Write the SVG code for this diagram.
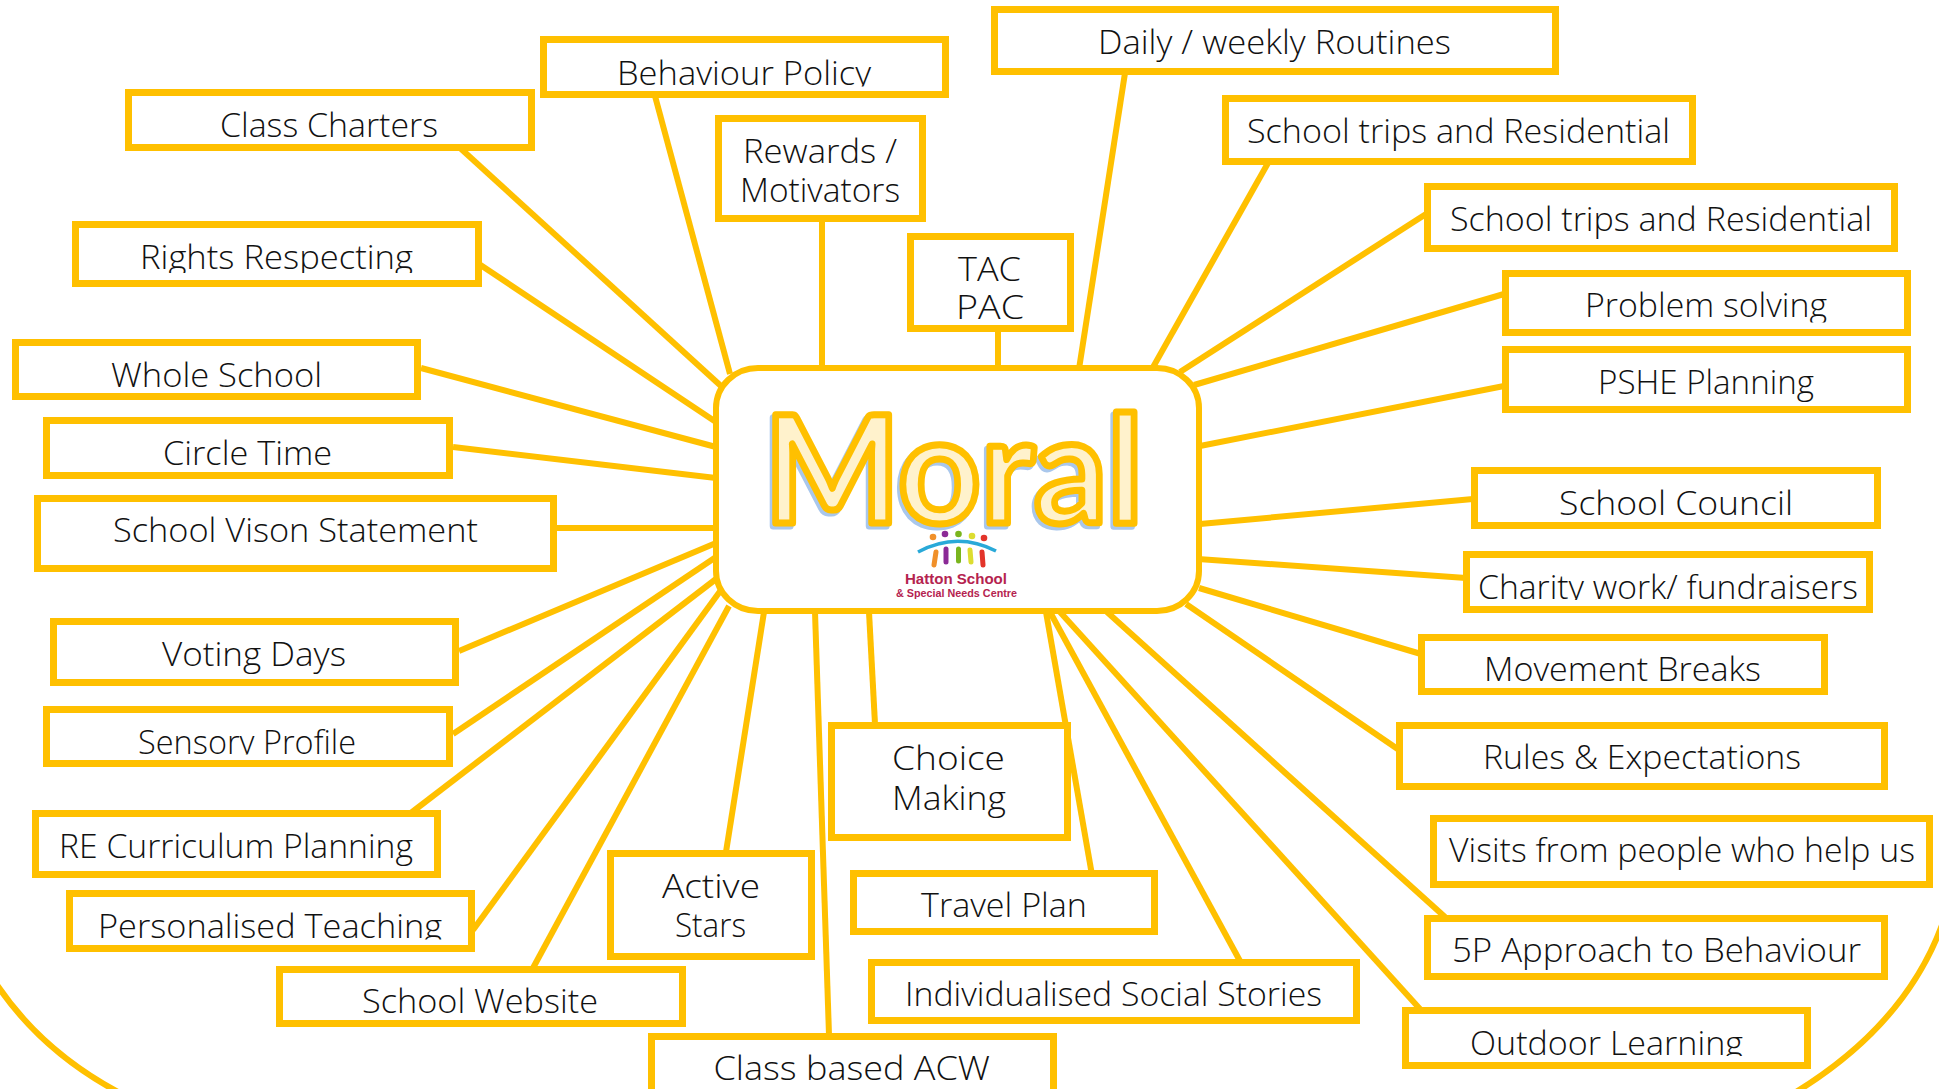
<svg xmlns="http://www.w3.org/2000/svg" width="1939" height="1089" viewBox="0 0 1939 1089">
<style>
.c{fill:none;stroke:#ffc000;stroke-width:6}
.n{fill:#fff;stroke:#ffc000;stroke-width:7}
.t{font-family:"Open Sans","Liberation Sans",sans-serif;font-size:33px;font-weight:300;fill:#111;transform:translateY(1px)}
.m{font-family:Lato,"Open Sans",sans-serif;font-size:150px;font-weight:700;stroke-linejoin:round}
.l{font-family:"Liberation Sans",sans-serif;font-weight:700;fill:#b5234f}
</style>
<defs>
<clipPath id="k1"><rect x="600" y="40" width="300" height="45.500"/></clipPath>
<clipPath id="k2"><rect x="100" y="720" width="300" height="33.500"/></clipPath>
<clipPath id="k3"><rect x="80" y="900" width="380" height="38.500"/></clipPath>
<clipPath id="k4"><rect x="1450" y="1020" width="320" height="35"/></clipPath>
<clipPath id="k5"><rect x="1470" y="560" width="395" height="39"/></clipPath>
<clipPath id="k6"><rect x="940" y="290" width="100" height="28.500"/></clipPath>
<clipPath id="k7"><rect x="130" y="240" width="300" height="32"/></clipPath>
<clipPath id="k8"><rect x="1570" y="285" width="270" height="36.500"/></clipPath>
</defs>
<g id="connectors" stroke-linecap="butt">
<path class="c" d="M-5,982 Q40,1050 118,1092"/>
<path class="c" d="M1942,925 Q1905,1025 1796,1092"/>
<path class="c" d="M459,147 L721,386"/>
<path class="c" d="M655,96 L730,374"/>
<path class="c" d="M822,215 V367"/>
<path class="c" d="M476,262 L716,422"/>
<path class="c" d="M421,368 L716,447"/>
<path class="c" d="M453,447 L716,478"/>
<path class="c" d="M551,528 H716"/>
<path class="c" d="M998,330 V371"/>
<path class="c" d="M1125,73 L1079,369"/>
<path class="c" d="M1268,163 L1152,369"/>
<path class="c" d="M1426,214 L1180,372"/>
<path class="c" d="M1504,294 L1194,385"/>
<path class="c" d="M1504,386 L1200,446"/>
<path class="c" d="M1473,499 L1200,524"/>
<path class="c" d="M1198,559 L1466,578"/>
<path class="c" d="M1199,588 L1421,654"/>
<path class="c" d="M1186,604 L1402,752"/>
<path class="c" d="M1107,612 L1445,917"/>
<path class="c" d="M1060,612 L1420,1009"/>
<path class="c" d="M1050,612 L1240,961"/>
<path class="c" d="M1046,612 L1092,875"/>
<path class="c" d="M869,612 L875,724"/>
<path class="c" d="M815,612 L829,1035"/>
<path class="c" d="M764,612 L726,852"/>
<path class="c" d="M729,606 L533,968"/>
<path class="c" d="M721,590 L473,930"/>
<path class="c" d="M716,579 L403,819"/>
<path class="c" d="M716,557 L453,734"/>
<path class="c" d="M716,543 L459,651"/>
</g>
<g id="behaviour-policy"><rect class="n" x="543.500" y="39.500" width="402" height="55"/><text class="t" x="617" y="84" textLength="254" lengthAdjust="spacingAndGlyphs" clip-path="url(#k1)">Behaviour Policy</text></g>
<g id="class-charters"><rect class="n" x="128.500" y="92.500" width="403" height="55"/><text class="t" x="220" y="135.500" textLength="218" lengthAdjust="spacingAndGlyphs">Class Charters</text></g>
<g id="rewards"><rect class="n" x="718.500" y="118.500" width="204" height="100"/><text class="t" x="743" y="162" textLength="154" lengthAdjust="spacingAndGlyphs">Rewards /</text><text class="t" x="740" y="200.500" textLength="160" lengthAdjust="spacingAndGlyphs">Motivators</text></g>
<g id="rights-respecting"><rect class="n" x="75.500" y="224.500" width="403" height="59"/><text class="t" x="140" y="267.500" textLength="273" lengthAdjust="spacingAndGlyphs" clip-path="url(#k7)">Rights Respecting</text></g>
<g id="whole-school"><rect class="n" x="15.500" y="342.500" width="402" height="54"/><text class="t" x="111" y="386" textLength="211" lengthAdjust="spacingAndGlyphs">Whole School</text></g>
<g id="circle-time"><rect class="n" x="46.500" y="420.500" width="403" height="55"/><text class="t" x="163" y="464" textLength="169" lengthAdjust="spacingAndGlyphs">Circle Time</text></g>
<g id="school-vison"><rect class="n" x="37.500" y="498.500" width="516" height="70"/><text class="t" x="113" y="540.500" textLength="365" lengthAdjust="spacingAndGlyphs">School Vison Statement</text></g>
<g id="daily-routines"><rect class="n" x="994.500" y="9.500" width="561" height="62"/><text class="t" x="1098" y="53" textLength="353" lengthAdjust="spacingAndGlyphs">Daily / weekly Routines</text></g>
<g id="school-trips-1"><rect class="n" x="1225.500" y="98.500" width="467" height="63"/><text class="t" x="1247" y="142" textLength="423" lengthAdjust="spacingAndGlyphs">School trips and Residential</text></g>
<g id="school-trips-2"><rect class="n" x="1427.500" y="186.500" width="467" height="62"/><text class="t" x="1450" y="230" textLength="422" lengthAdjust="spacingAndGlyphs">School trips and Residential</text></g>
<g id="problem-solving"><rect class="n" x="1505.500" y="273.500" width="402" height="59"/><text class="t" x="1585" y="316" textLength="242" lengthAdjust="spacingAndGlyphs" clip-path="url(#k8)">Problem solving</text></g>
<g id="pshe-planning"><rect class="n" x="1505.500" y="349.500" width="402" height="60"/><text class="t" x="1598" y="393" textLength="216" lengthAdjust="spacingAndGlyphs">PSHE Planning</text></g>
<g id="school-council"><rect class="n" x="1474.500" y="470.500" width="403" height="55"/><text class="t" x="1559" y="514" textLength="234" lengthAdjust="spacingAndGlyphs">School Council</text></g>
<g id="tac-pac"><rect class="n" x="910.500" y="236.500" width="160" height="92"/><text class="t" x="958" y="280" textLength="63" lengthAdjust="spacingAndGlyphs">TAC</text><text class="t" x="956" y="318" textLength="68" lengthAdjust="spacingAndGlyphs" clip-path="url(#k6)">PAC</text></g>
<g id="voting-days"><rect class="n" x="53.500" y="621.500" width="402" height="61"/><text class="t" x="162" y="665" textLength="184" lengthAdjust="spacingAndGlyphs">Voting Days</text></g>
<g id="sensory-profile"><rect class="n" x="46.500" y="709.500" width="403" height="54"/><text class="t" x="138" y="752.500" textLength="218" lengthAdjust="spacingAndGlyphs" clip-path="url(#k2)">Sensory Profile</text></g>
<g id="re-curriculum"><rect class="n" x="35.500" y="813.500" width="402" height="61"/><text class="t" x="59" y="856.500" textLength="354" lengthAdjust="spacingAndGlyphs">RE Curriculum Planning</text></g>
<g id="personalised-teaching"><rect class="n" x="69.500" y="893.500" width="402" height="55"/><text class="t" x="98" y="937" textLength="344" lengthAdjust="spacingAndGlyphs" clip-path="url(#k3)">Personalised Teaching</text></g>
<g id="school-website"><rect class="n" x="279.500" y="969.500" width="403" height="54"/><text class="t" x="362" y="1012" textLength="236" lengthAdjust="spacingAndGlyphs">School Website</text></g>
<g id="active-stars"><rect class="n" x="610.500" y="853.500" width="201" height="103"/><text class="t" x="662" y="896.500" textLength="98" lengthAdjust="spacingAndGlyphs">Active</text><text class="t" x="675" y="936" textLength="71" lengthAdjust="spacingAndGlyphs">Stars</text></g>
<g id="class-based-acw"><rect class="n" x="651.500" y="1036.500" width="402" height="62"/><text class="t" x="713.500" y="1079" textLength="276.500" lengthAdjust="spacingAndGlyphs">Class based ACW</text></g>
<g id="choice-making"><rect class="n" x="831.500" y="725.500" width="236" height="112"/><text class="t" x="892" y="769" textLength="113" lengthAdjust="spacingAndGlyphs">Choice</text><text class="t" x="892" y="808.500" textLength="114" lengthAdjust="spacingAndGlyphs">Making</text></g>
<g id="travel-plan"><rect class="n" x="853.500" y="873.500" width="301" height="58"/><text class="t" x="921" y="916" textLength="166" lengthAdjust="spacingAndGlyphs">Travel Plan</text></g>
<g id="social-stories"><rect class="n" x="871.500" y="962.500" width="485" height="58"/><text class="t" x="905" y="1004.500" textLength="417" lengthAdjust="spacingAndGlyphs">Individualised Social Stories</text></g>
<g id="charity-work"><rect class="n" x="1466.500" y="554.500" width="403" height="55"/><text class="t" x="1478" y="598" textLength="380" lengthAdjust="spacingAndGlyphs" clip-path="url(#k5)">Charity work/ fundraisers</text></g>
<g id="movement-breaks"><rect class="n" x="1421.500" y="637.500" width="403" height="54"/><text class="t" x="1484" y="680" textLength="277" lengthAdjust="spacingAndGlyphs">Movement Breaks</text></g>
<g id="rules-expectations"><rect class="n" x="1399.500" y="725.500" width="485" height="61"/><text class="t" x="1483" y="768" textLength="318" lengthAdjust="spacingAndGlyphs">Rules &amp; Expectations</text></g>
<g id="visits"><rect class="n" x="1433.500" y="818.500" width="496" height="66"/><text class="t" x="1449" y="861" textLength="466" lengthAdjust="spacingAndGlyphs">Visits from people who help us</text></g>
<g id="five-p"><rect class="n" x="1427.500" y="918.500" width="457" height="58"/><text class="t" x="1452" y="961" textLength="409" lengthAdjust="spacingAndGlyphs">5P Approach to Behaviour</text></g>
<g id="outdoor-learning"><rect class="n" x="1405.500" y="1010.500" width="402" height="55"/><text class="t" x="1470" y="1054" textLength="273" lengthAdjust="spacingAndGlyphs" clip-path="url(#k4)">Outdoor Learning</text></g>
<g id="moral">
<rect x="716" y="368" width="483" height="243" rx="42" ry="40" fill="#fff" stroke="#ffc000" stroke-width="6"/>
<text class="m" x="764" y="523" textLength="379" lengthAdjust="spacingAndGlyphs" fill="#a9c7ec" stroke="#a9c7ec" stroke-width="7" transform="translate(-2.500,2.500)">Moral</text>
<text class="m" x="764" y="523" textLength="379" lengthAdjust="spacingAndGlyphs" fill="#fff2cc" stroke="#ffc000" stroke-width="7">Moral</text>
<g id="logo">
<circle cx="933" cy="537" r="3.300" fill="#f0902a"/><circle cx="945" cy="534" r="3.300" fill="#8b2a96"/><circle cx="958.500" cy="534" r="3.300" fill="#7ab51d"/><circle cx="972" cy="536" r="3.300" fill="#dddd30"/><circle cx="984" cy="538" r="3.300" fill="#e3342a"/>
<path d="M918,552 Q957,531 996,551" fill="none" stroke="#29a9d8" stroke-width="3.500"/>
<g stroke-width="5" stroke-linecap="round"><path d="M936,552 L934,565" stroke="#f0902a"/><path d="M946,549 V562" stroke="#8b2a96"/><path d="M958.500,549 V561" stroke="#7ab51d"/><path d="M970,550 L971,562" stroke="#dddd30"/><path d="M982,552 L983,565" stroke="#e3342a"/></g>
<text class="l" x="905" y="584" font-size="15.500" textLength="102" lengthAdjust="spacingAndGlyphs">Hatton School</text>
<text class="l" x="896" y="597" font-size="10.500" textLength="121" lengthAdjust="spacingAndGlyphs">&amp; Special Needs Centre</text>
</g>
</g>
</svg>
